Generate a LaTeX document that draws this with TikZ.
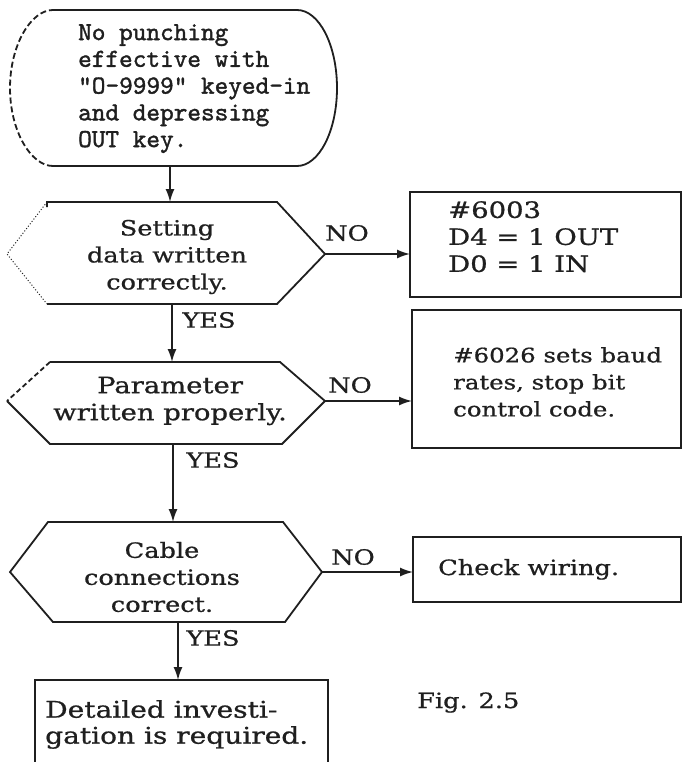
\documentclass[tikz,border=0pt]{standalone}
\usepackage{fontspec}
\newfontfamily\bkfont[FakeStretch=1.22, FakeBold=0.8]{DejaVu Serif}
\setmonofont{lmmono10-regular}[Extension=.otf, FakeBold=1.4]
\usetikzlibrary{arrows.meta}
\begin{document}
\begin{tikzpicture}[x=1pt,y=-1pt,
  ink/.style={draw=black!88, line width=1.8pt, line join=miter},
  conn/.style={draw=black!88, line width=1.6pt, -{Latex[length=13pt,width=9pt]}},
  lbl/.style={font=\bkfont\fontsize{21}{27}\selectfont, text=black!88, inner sep=0pt},
  big/.style={font=\bkfont\fontsize{22.5}{27}\selectfont},
  ctext/.style={lbl, align=center},
  ltext/.style={lbl, align=left},
  ttext/.style={font=\ttfamily\fontsize{26}{26.75}\selectfont, text=black!88, inner sep=0pt, align=left}]
\useasboundingbox[fill=white] (0,0) rectangle (683,762);

% terminal
\draw[ink] (53,10) -- (297,10) .. controls (319,10) and (337,45) .. (337,88)
  .. controls (337,131) and (319,166) .. (297,166) -- (53,166);
\draw[ink, dash pattern=on 6pt off 3pt] (53,166) .. controls (31,166) and (10,131) .. (10,88)
  .. controls (10,45) and (31,10) .. (53,10);
\node[ttext, anchor=north west] (tt) at (78,24) {No punching\\effective with\\"O-9999" keyed-in\\and depressing\\OUT key.};

% hexagon 1
\draw[ink] (47,304) -- (277,304) -- (325,254) -- (277,202) -- (47,202) -- (47,207);
\draw[ink, line width=1pt, dotted] (47,202) -- (7,254) -- (47,304);
\node[ctext] (h1t) at (167,257) {Setting\\data written\\correctly.};

% hexagon 2
\draw[ink] (7,401) -- (50,444) -- (282,444) -- (325,401) -- (280,362) -- (50,362);
\draw[ink, dash pattern=on 5pt off 3pt] (50,362) -- (7,401);
\node[ctext, big] (h2t) at (170,401) {Parameter\\written properly.};

% hexagon 3
\draw[ink] (48,522) -- (283,522) -- (322,572) -- (285,622) -- (53,622) -- (10,572) -- cycle;
\node[ctext] (h3t) at (162,577) {Cable\\connections\\correct.};

% boxes
\draw[ink] (410,192) rectangle (681,297);
\node[ltext, big, anchor=north west] (b1t) at (448,201) {\#6003\\D4 = 1 OUT\\D0 = 1 IN};
\draw[ink] (412,310) rectangle (681,448);
\node[ltext, anchor=north west, font=\bkfont\fontsize{20}{27}\selectfont] (b2t) at (453,347) {\#6026 sets baud\\rates, stop bit\\control code.};
\draw[ink] (413,537) rectangle (681,602);
\node[lbl, anchor=base west] (b3t) at (438,575) {Check wiring.};
\draw[ink] (35,680) rectangle (328,780);
\node[ltext, anchor=north west, font=\bkfont\fontsize{23}{26}\selectfont] (b4t) at (45,700) {Detailed investi-\\gation is required.};

\node[lbl, anchor=base west] (fig) at (417,708) {Fig. 2.5};

% connection points
\coordinate (ts) at (170,166);
\coordinate (h1n) at (170,202);
\coordinate (h1s) at (172,304);
\coordinate (h1e) at (325,254);
\coordinate (b1w) at (410,254);
\coordinate (h2n) at (172,362);
\coordinate (h2s) at (173,444);
\coordinate (h2e) at (325,401);
\coordinate (b2w) at (412,401);
\coordinate (h3n) at (173,522);
\coordinate (h3s) at (178,622);
\coordinate (h3e) at (322,572);
\coordinate (b3w) at (413,572);
\coordinate (b4n) at (178,680);

\draw[conn] (ts) -- (h1n);
\draw[conn] (h1s) -- (h2n);
\draw[conn] (h2s) -- (h3n);
\draw[conn] (h3s) -- (b4n);
\draw[conn] (h1e) -- (b1w);
\draw[conn] (h2e) -- (b2w);
\draw[conn] (h3e) -- (b3w);

% labels
\node[lbl] (no1) at (347,233) {NO};
\node[lbl] (no2) at (350,385) {NO};
\node[lbl] (no3) at (353,557) {NO};
\node[lbl] (yes1) at (209,320) {YES};
\node[lbl] (yes2) at (213,460) {YES};
\node[lbl] (yes3) at (213,638) {YES};
\end{tikzpicture}
\end{document}
